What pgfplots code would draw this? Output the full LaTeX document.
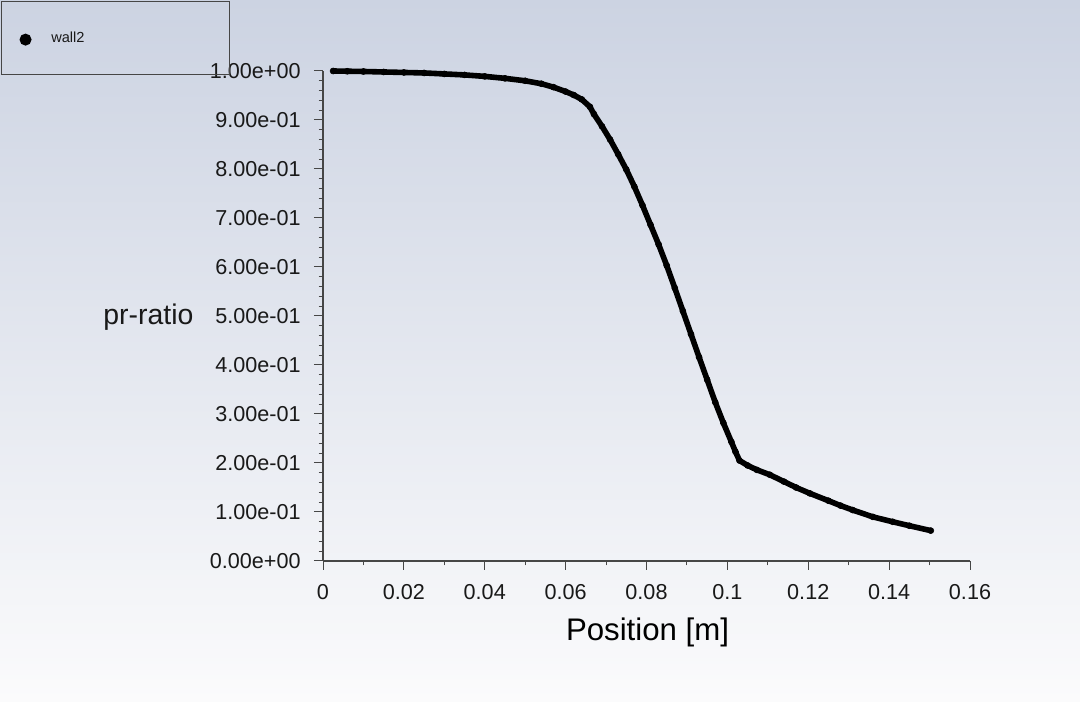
\documentclass[border=0pt]{standalone}
\usepackage{pgfplots}
\pgfplotsset{compat=1.18}
\usepackage{fontspec}
\setmainfont{Liberation Sans}
\definecolor{bgtop}{RGB}{204,211,226}
\definecolor{bgbot}{RGB}{251,251,252}
\definecolor{axgray}{RGB}{70,70,70}
\definecolor{txt}{RGB}{25,25,25}
\pgfplotstableread{
x y
0.0025 1.000
0.006 0.9995
0.010 0.999
0.015 0.998
0.020 0.997
0.025 0.996
0.030 0.994
0.035 0.992
0.040 0.989
0.045 0.985
0.050 0.980
0.054 0.974
0.057 0.967
0.060 0.958
0.062 0.951
0.064 0.942
0.066 0.927
0.067 0.912
0.069 0.887
0.071 0.860
0.073 0.830
0.075 0.799
0.077 0.764
0.079 0.726
0.081 0.686
0.083 0.646
0.085 0.603
0.087 0.557
0.089 0.510
0.091 0.463
0.093 0.416
0.095 0.370
0.097 0.324
0.099 0.282
0.101 0.243
0.102 0.223
0.103 0.205
0.105 0.195
0.1073 0.186
0.1105 0.176
0.114 0.162
0.117 0.150
0.1204 0.138
0.125 0.123
0.128 0.113
0.131 0.104
0.136 0.090
0.1409 0.080
0.145 0.072
0.1503 0.062
}\walltwo
\begin{document}
\begin{tikzpicture}[x=1pt,y=1pt]
\shade[top color=bgtop, bottom color=bgbot] (0,0) rectangle (540,350.5);
\useasboundingbox (0,0) rectangle (540,350.5);
\begin{axis}[
  at={(161.5pt,70pt)}, anchor=south west,
  scale only axis, width=323.5pt, height=245pt,
  xmin=0, xmax=0.16, ymin=0, ymax=1,
  axis x line*=bottom, axis y line*=left,
  axis line style={axgray, line width=0.75pt},
  tick align=outside,
  tick style={axgray, line width=0.5pt},
  major tick length=4.5pt, minor tick length=2.2pt,
  xtick={0,0.02,0.04,0.06,0.08,0.1,0.12,0.14,0.16},
  xticklabels={0,0.02,0.04,0.06,0.08,0.1,0.12,0.14,0.16},
  minor x tick num=1,
  ytick={0,0.1,0.2,0.3,0.4,0.5,0.6,0.7,0.8,0.9,1},
  yticklabels={0.00e+00,1.00e-01,2.00e-01,3.00e-01,4.00e-01,5.00e-01,6.00e-01,7.00e-01,8.00e-01,9.00e-01,1.00e+00},
  minor y tick num=4,
  tick label style={font=\fontsize{10.8}{13}\selectfont, text=txt},
  yticklabel style={inner sep=0pt, xshift=-6.5pt},
  xticklabel style={inner sep=0pt, yshift=-7pt},
  clip=false,
  legend style={at={(axis description cs:-0.4977,1.1429)}, anchor=north west,
    draw=axgray, line width=0.75pt, fill=none, inner xsep=9pt, inner ysep=0pt,
    minimum height=36.5pt, column sep=10pt,
    nodes={inner sep=0pt, font=\fontsize{7.3}{9}\selectfont, text=txt}},
  legend image code/.code={\fill[black] (1.5pt,-0.7pt) circle (1.5pt);},
]
\addplot[black, line width=2.8pt, mark=*, mark size=1.5pt, mark options={line width=0.3pt}] table {\walltwo};
\addlegendentry{\makebox[80pt][l]{wall2}}
\end{axis}
\node[anchor=base, font=\fontsize{15.6}{18}\selectfont, text=black] at (323.75,30.5) {Position [m]};
\node[anchor=base west, font=\fontsize{14.2}{17}\selectfont, text=txt, inner sep=0pt] at (51.5,188) {pr-ratio};
\end{tikzpicture}
\end{document}
